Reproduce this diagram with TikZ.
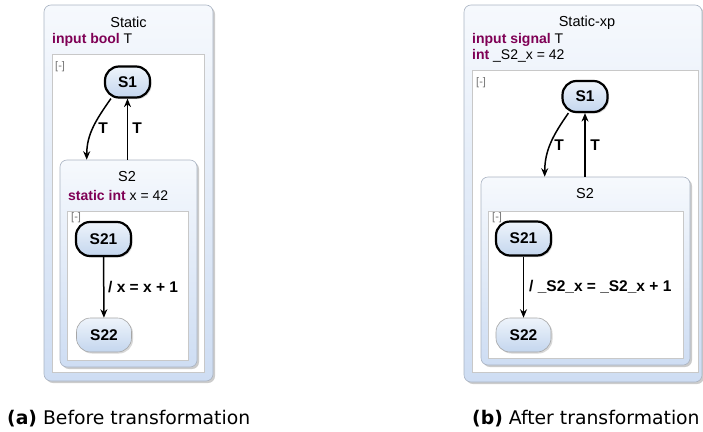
\documentclass[tikz,border=0pt]{standalone}
\usepackage{fontspec}
\setmainfont{Liberation Sans}
\newfontfamily\capfont{DejaVu Sans}
\usetikzlibrary{shadows,arrows.meta,calc}
\definecolor{kw}{RGB}{127,0,85}
\definecolor{regborder}{RGB}{170,180,195}
\definecolor{regtop}{RGB}{246,249,253}
\definecolor{regbot}{RGB}{206,221,243}
\definecolor{sttop}{RGB}{238,244,251}
\definecolor{stbot}{RGB}{196,214,238}
\definecolor{bodyline}{RGB}{200,200,200}
\tikzset{
  region/.style={draw=regborder, line width=0.6pt, rounded corners=7pt,
    top color=regtop, bottom color=regbot, inner sep=0pt,
    drop shadow={shadow xshift=2pt,shadow yshift=-2pt,fill=black!40}},
  regbody/.style={draw=bodyline, fill=white, line width=0.5pt, inner sep=0pt},
  stbox/.style={draw=gray!70, line width=0.6pt, rounded corners=14pt,
    top color=sttop, bottom color=stbot, minimum width=55pt, minimum height=34pt,
    inner sep=0pt, font=\fontsize{15.5}{18}\selectfont\bfseries,
    drop shadow={shadow xshift=1.5pt,shadow yshift=-1.5pt,fill=black!30}},
  initst/.style={stbox, draw=black, line width=2.2pt},
  trans/.style={-{Stealth[length=8.5pt,width=7pt]}, line width=1.5pt},
  tlabel/.style={font=\fontsize{15.5}{18}\selectfont\bfseries, inner sep=0pt},
  rtitle/.style={font=\fontsize{14.5}{17}\selectfont, inner sep=0pt},
  decl/.style={font=\fontsize{14}{16}\selectfont, inner sep=0pt, anchor=west},
  collapse/.style={font=\fontsize{11}{13}\selectfont, text=black!55, inner sep=0pt, anchor=west},
  capt/.style={font=\capfont\fontsize{18.8}{22}\selectfont, inner sep=0pt, anchor=base west}
}
\begin{document}
\begin{tikzpicture}[x=1pt,y=-1pt]
\useasboundingbox (0,0) rectangle (703,431);
% ---------- (a) ----------
\node[region, minimum width=169pt, minimum height=376pt] (outA) at (128.5,193) {};
\node[rtitle] (titA) at (128.5,22) {Static};
\node[decl] (declA) at (52,40) {\textcolor{kw}{\bfseries input bool} T};
\node[regbody, minimum width=152pt, minimum height=318pt] (bodyA) at (128,213) {};
\node[collapse] (colA) at (55,67) {[-]};
\node[region, minimum width=137pt, minimum height=207pt] (S2A) at (128.5,263.5) {};
\node[rtitle] (S2Atit) at (127,177) {S2};
\node[decl] (S2Adecl) at (68,195) {\textcolor{kw}{\bfseries static int} x = 42};
\node[regbody, minimum width=121pt, minimum height=149pt] (S2Abody) at (127.5,285.5) {};
\node[collapse] (colA2) at (71,218) {[-]};
\node[initst, minimum width=45pt, minimum height=31pt] (S1A) at (127.5,82) {S1};
\node[initst] (S21A) at (103.5,239) {S21};
\node[stbox] (S22A) at (104,335) {S22};
\draw[trans] (S1A.225) to[out=235,in=90] ([xshift=27pt]S2A.north west);
\draw[trans] (S1A.south |- S2A.north) -- (S1A.south);
\node[tlabel] (TA1) at (103,128) {T};
\node[tlabel] (TA2) at (137,128) {T};
\draw[trans] (S21A) -- (S22A);
\node[tlabel, anchor=west] (LA) at (108,287) {/ x = x + 1};
% ---------- (b) ----------
\node[region, minimum width=238pt, minimum height=377pt] (outB) at (583,193.5) {};
\node[rtitle] (titB) at (587,23) {Static-xp};
\node[decl] (declB1) at (472,40) {\textcolor{kw}{\bfseries input signal} T};
\node[decl] (declB2) at (472,56) {\textcolor{kw}{\bfseries int} \_S2\_x = 42};
\node[regbody, minimum width=226pt, minimum height=302pt] (bodyB) at (585,221) {};
\node[collapse] (colB) at (476,83) {[-]};
\node[region, minimum width=209pt, minimum height=188pt] (S2B) at (585.5,271) {};
\node[rtitle] (S2Btit) at (585,194) {S2};
\node[regbody, minimum width=195pt, minimum height=147pt] (S2Bbody) at (585.5,284.5) {};
\node[collapse] (colB2) at (492,218) {[-]};
\node[initst, minimum width=45pt, minimum height=31pt] (S1B) at (585,96.5) {S1};
\node[initst] (S21B) at (523.5,238.5) {S21};
\node[stbox] (S22B) at (523.5,335) {S22};
\draw[trans] (S1B.225) to[out=235,in=90] ([xshift=64pt]S2B.north west);
\draw[trans] (S1B.south |- S2B.north) -- (S1B.south);
\node[tlabel] (TB1) at (559,145) {T};
\node[tlabel] (TB2) at (595,145) {T};
\draw[trans] (S21B) -- (S22B);
\node[tlabel, anchor=west] (LB) at (529,287) {/ \_S2\_x = \_S2\_x + 1};
% ---------- captions ----------
\node[capt] (capA) at (7,424) {\textbf{(a)} Before transformation};
\node[capt] (capB) at (472,424) {\textbf{(b)} After transformation};
\end{tikzpicture}
\end{document}
